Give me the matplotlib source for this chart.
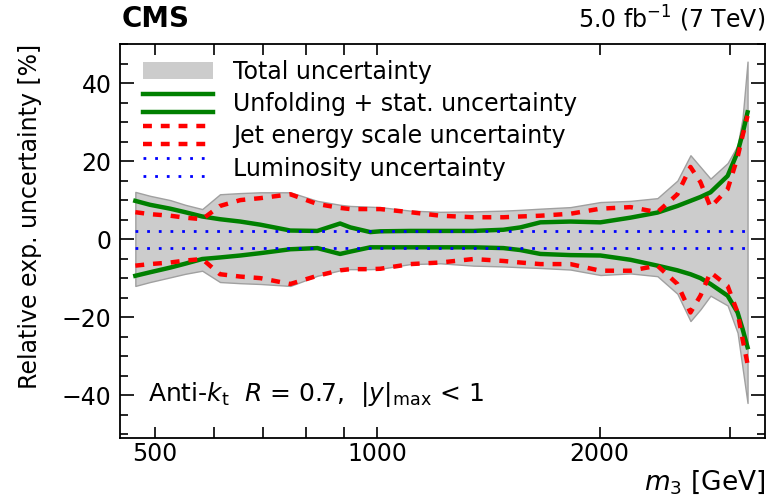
import numpy as np
import matplotlib
matplotlib.use('Agg')
import matplotlib.pyplot as plt
from matplotlib.legend_handler import HandlerBase
from matplotlib.lines import Line2D
from matplotlib.patches import Patch
from matplotlib.ticker import FixedLocator, NullFormatter, MultipleLocator

plt.rcParams['font.family'] = ['DejaVu Sans']

# three-jet mass points [GeV]
m3 = [470, 492, 524, 549, 579, 612, 652, 694, 762, 829, 890, 919, 978, 1009,
      1108, 1216, 1349, 1481, 1561, 1662, 1825, 2004, 2201, 2394, 2548, 2654,
      2738, 2825, 2980, 3074, 3122, 3171]

# total uncertainty band [%]
tot_up = [12.1, 11.1, 10.0, 8.8, 7.7, 11.5, 11.8, 12.0, 12.0, 9.8, 8.8, 8.5,
          8.3, 8.2, 7.3, 7.0, 7.1, 7.3, 7.5, 7.8, 8.2, 9.5, 9.8, 10.5, 15.0,
          21.5, 18.5, 15.5, 19.5, 24.0, 31.0, 45.5]
tot_lo = [-12.0, -11.0, -9.8, -8.9, -8.1, -11.0, -11.3, -11.5, -12.0, -9.4,
          -8.0, -7.7, -7.7, -7.6, -6.4, -6.2, -6.8, -7.0, -7.2, -7.4, -7.8,
          -9.2, -8.8, -9.5, -14.0, -21.0, -18.0, -14.5, -17.0, -24.0, -33.0,
          -42.0]

# unfolding + stat.
unf_up = [9.8, 8.8, 7.8, 6.9, 5.8, 5.1, 4.5, 3.7, 2.2, 2.1, 4.0, 3.0, 1.8,
          2.0, 2.1, 2.1, 2.1, 2.4, 3.0, 4.3, 4.5, 4.3, 5.5, 6.8, 8.5, 9.8,
          10.8, 12.0, 16.2, 22.3, 27.0, 32.5]
unf_lo = [-9.4, -8.5, -7.3, -6.3, -5.1, -4.7, -4.2, -3.6, -2.6, -2.3, -3.8,
          -3.2, -2.1, -2.1, -2.1, -2.1, -2.1, -2.3, -2.8, -3.8, -4.1, -4.2,
          -5.3, -6.8, -8.0, -9.0, -10.0, -11.5, -14.5, -18.8, -23.0, -27.7]

# jet energy scale
jes_up = [6.9, 6.4, 6.0, 5.5, 5.1, 8.5, 10.0, 10.5, 11.5, 9.0, 8.0, 7.7, 7.7,
          7.7, 6.9, 6.0, 5.6, 5.6, 5.8, 6.0, 6.5, 7.8, 8.2, 6.9, 11.5, 18.5,
          14.6, 8.2, 12.8, 21.0, 26.5, 31.6]
jes_lo = [-6.8, -6.4, -6.0, -5.5, -5.1, -9.0, -9.6, -10.0, -11.5, -9.4, -8.0,
          -7.7, -7.7, -7.6, -6.4, -6.0, -5.1, -5.6, -6.0, -6.4, -6.4, -8.1,
          -8.1, -6.8, -11.5, -18.8, -14.5, -8.5, -12.0, -18.8, -25.6, -32.0]

lumi = 2.2


class DoubleLine(HandlerBase):
    # legend handle drawn as two parallel lines (upper and lower variation)
    def create_artists(self, legend, orig, xd, yd, w, h, fs, trans):
        arts = []
        for y in (-yd - 0.05 * h, -yd + 1.05 * h):
            l = Line2D([-xd, -xd + w], [y, y])
            l.update_from(orig)
            l.set_transform(trans)
            arts.append(l)
        return arts


fig = plt.figure(figsize=(7.69, 4.95), dpi=100)
ax = fig.add_axes([0.156, 0.115, 0.839, 0.796])

ax.fill_between(m3, tot_lo, tot_up, facecolor='#cccccc', edgecolor='#a0a0a0',
                lw=1, zorder=1)
ax.plot(m3, unf_up, color='#008000', lw=3.2, zorder=2)
ax.plot(m3, unf_lo, color='#008000', lw=3.2, zorder=2)
ax.plot(m3, jes_up, color='red', lw=3.2, dashes=(2, 2), zorder=3)
ax.plot(m3, jes_lo, color='red', lw=3.2, dashes=(2, 2), zorder=3)
ax.plot([m3[0], m3[-1]], [lumi, lumi], color='blue', lw=2,
        linestyle=(0, (1, 3.2)), zorder=4)
ax.plot([m3[0], m3[-1]], [-lumi, -lumi], color='blue', lw=2,
        linestyle=(0, (1, 3.2)), zorder=4)

ax.set_xscale('log')
ax.set_xlim(448, 3350)
ax.set_ylim(-51, 50)

ax.xaxis.set_major_locator(FixedLocator([500, 1000, 2000]))
ax.xaxis.set_minor_locator(FixedLocator([600, 700, 800, 900, 3000]))
ax.set_xticklabels(['500', '1000', '2000'])
ax.xaxis.set_minor_formatter(NullFormatter())
ax.yaxis.set_major_locator(MultipleLocator(20))
ax.yaxis.set_minor_locator(MultipleLocator(5))
ax.tick_params(which='both', direction='in', top=True, right=True,
               labelsize=17, width=1.2)
ax.tick_params(which='major', length=10, pad=6)
ax.tick_params(which='minor', length=6)
ax.tick_params(axis='x', which='both', length=8, pad=3)
for s in ax.spines.values():
    s.set_linewidth(1.3)

ax.set_ylabel('Relative exp. uncertainty [%]', fontsize=17, loc='top',
              labelpad=14)
fig.text(0.995, 0.026, '$m_3$ [GeV]', fontsize=19, ha='right', va='center')

handles = [Patch(facecolor='#cccccc', edgecolor='none'),
           Line2D([], [], color='#008000', lw=3.2),
           Line2D([], [], color='red', lw=3.2, dashes=(2, 2)),
           Line2D([], [], color='blue', lw=2, linestyle=(0, (1, 3.2)))]
labels = ['Total uncertainty', 'Unfolding + stat. uncertainty',
          'Jet energy scale uncertainty', 'Luminosity uncertainty']
ax.legend(handles, labels, loc='upper left', frameon=False, fontsize=17,
          handlelength=3.0, handleheight=0.7, handletextpad=0.85,
          labelspacing=0.35, borderaxespad=0.0, borderpad=0.0,
          bbox_to_anchor=(0.035, 0.96),
          handler_map={Line2D: DoubleLine()})

ax.text(0.043, 0.11, r'Anti-$k_{\rm t}$  $R$ = 0.7,  $|y|_{\rm max}$ < 1',
        transform=ax.transAxes, fontsize=18, va='center')
fig.text(0.158, 0.962, 'CMS', fontsize=20, fontweight='bold', va='center')
fig.text(0.995, 0.962, r'5.0 fb$^{-1}$ (7 TeV)', fontsize=17, ha='right',
         va='center')

fig.savefig('out.png', dpi=100)
